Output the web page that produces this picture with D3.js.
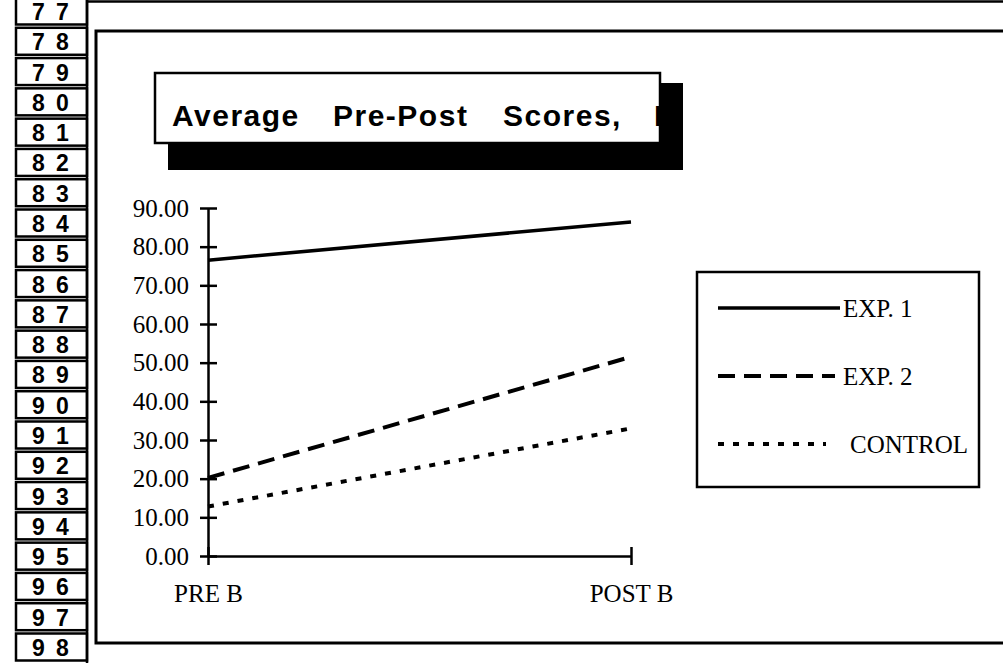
<!DOCTYPE html>
<html>
<head>
<meta charset="utf-8">
<script src="https://cdnjs.cloudflare.com/ajax/libs/d3/7.8.5/d3.min.js"></script>
<style>
  body { margin: 0; background: #fff; }
  svg { display: block; }
</style>
</head>
<body>
<div class="chart-container"></div>
<script>
/* Average Pre-Post Scores
   ========================================================================== */

// Data
var categories = ["PRE B", "POST B"];
var exp1 = [76.5, 86.4];
var exp2 = [20.2, 51.5];
var control = [12.8, 33.0];
var seriesNames = ["EXP. 1", "EXP. 2", "CONTROL"];
var yTicks = [0, 10, 20, 30, 40, 50, 60, 70, 80, 90];
var rowNumbers = d3.range(77, 99);
var titleWords = ["Average", "Pre-Post", "Scores,", "B"];

var width = 1003,
    height = 663;

var svg = d3.select(".chart-container").append("svg")
    .attr("width", width)
    .attr("height", height)
    .style("background", "#fff");

// Spreadsheet row numbers on the left
var rowY = d3.scaleLinear()
    .domain([77, 98])
    .range([11, 647]);

var rows = svg.append("g").attr("class", "rows");

rows.selectAll("rect")
    .data(rowNumbers)
    .enter().append("rect")
    .attr("x", 16)
    .attr("y", function(d) { return rowY(d) - 13.5; })
    .attr("width", 71)
    .attr("height", 27)
    .attr("fill", "#fff")
    .attr("stroke", "#000")
    .attr("stroke-width", 2.5);

rows.selectAll("text")
    .data(rowNumbers)
    .enter().append("text")
    .attr("x", "32 56")
    .attr("y", function(d) { return rowY(d) + 9; })
    .attr("font-family", "Liberation Sans, Arial, sans-serif")
    .attr("font-weight", "bold")
    .attr("font-size", 23)
    .text(function(d) { return String(d); });

// column edge + top border
svg.append("line")
    .attr("x1", 87).attr("x2", 87).attr("y1", 0).attr("y2", height)
    .attr("stroke", "#000").attr("stroke-width", 2.5);
svg.append("line")
    .attr("x1", 87).attr("x2", width).attr("y1", 1.5).attr("y2", 1.5)
    .attr("stroke", "#000").attr("stroke-width", 2.5);

// Chart frame
svg.append("rect")
    .attr("x", 96)
    .attr("y", 31)
    .attr("width", 960)
    .attr("height", 612)
    .attr("fill", "none")
    .attr("stroke", "#000")
    .attr("stroke-width", 3);

// Title box with shadow
var box = { x: 155, y: 73, w: 505, h: 70 };

svg.append("rect")
    .attr("x", box.x + 13)
    .attr("y", box.y + 10)
    .attr("width", box.w + 10)
    .attr("height", box.h + 17)
    .attr("fill", "#000");

svg.append("rect")
    .attr("x", box.x)
    .attr("y", box.y)
    .attr("width", box.w)
    .attr("height", box.h)
    .attr("fill", "#fff")
    .attr("stroke", "#000")
    .attr("stroke-width", 2.5);

svg.append("clipPath")
    .attr("id", "title-clip")
    .append("rect")
    .attr("x", box.x)
    .attr("y", box.y)
    .attr("width", box.w - 1)
    .attr("height", box.h);

var wordX = [172, 333, 503, 654];

svg.append("g")
    .attr("clip-path", "url(#title-clip)")
    .selectAll("text")
    .data(titleWords)
    .enter().append("text")
    .attr("x", function(d, i) { return wordX[i]; })
    .attr("y", 126)
    .attr("font-family", "Liberation Sans, Arial, sans-serif")
    .attr("font-weight", "bold")
    .attr("font-size", 30)
    .attr("letter-spacing", 1.5)
    .text(function(d) { return d; });

// Scales
var x = d3.scalePoint()
    .domain(categories)
    .range([208, 631]);
var y = d3.scaleLinear()
    .domain([0, 90])
    .range([556, 208]);

// Y axis
var yAxis = svg.append("g")
    .attr("class", "y-axis")
    .attr("transform", "translate(" + x(categories[0]) + ",0)")
    .call(d3.axisLeft(y)
        .tickValues(yTicks)
        .tickFormat(d3.format(".2f"))
        .tickSizeInner(8)
        .tickSizeOuter(0)
        .tickPadding(11));

yAxis.selectAll("line").attr("x1", 9);

// X axis
var xAxis = svg.append("g")
    .attr("class", "x-axis")
    .attr("transform", "translate(0," + y(0) + ")")
    .call(d3.axisBottom(x)
        .tickSizeInner(9)
        .tickSizeOuter(0)
        .tickPadding(19));

xAxis.selectAll("line").attr("y1", -9);

svg.selectAll(".y-axis, .x-axis")
    .attr("font-family", "Liberation Serif, Times New Roman, serif")
    .attr("font-size", 25);
svg.selectAll(".y-axis path, .x-axis path, .y-axis line, .x-axis line")
    .attr("stroke", "#000")
    .attr("stroke-width", 2.5);
svg.selectAll(".y-axis text, .x-axis text").attr("fill", "#000");

// Series lines
var series = [
    { name: seriesNames[0], values: exp1, dash: null, w: 3.5 },
    { name: seriesNames[1], values: exp2, dash: "17,9", w: 4 },
    { name: seriesNames[2], values: control, dash: "6,9", w: 4 }
];

var line = d3.line()
    .x(function(d, i) { return x(categories[i]); })
    .y(function(d) { return y(d); });

svg.selectAll(".series")
    .data(series)
    .enter().append("path")
    .attr("class", "series")
    .attr("d", function(d) { return line(d.values); })
    .attr("fill", "none")
    .attr("stroke", "#000")
    .attr("stroke-width", function(d) { return d.w; })
    .attr("stroke-dasharray", function(d) { return d.dash; });

// Legend
var legend = svg.append("g").attr("class", "legend");

legend.append("rect")
    .attr("x", 697)
    .attr("y", 272)
    .attr("width", 282)
    .attr("height", 215)
    .attr("fill", "#fff")
    .attr("stroke", "#000")
    .attr("stroke-width", 2.5);

var legendY = [308, 376, 444];
var legendEnd = [840, 835, 826];
var legendText = [843, 843, 850];

legend.selectAll("line")
    .data(series)
    .enter().append("line")
    .attr("x1", 718)
    .attr("x2", function(d, i) { return legendEnd[i]; })
    .attr("y1", function(d, i) { return legendY[i]; })
    .attr("y2", function(d, i) { return legendY[i]; })
    .attr("stroke", "#000")
    .attr("stroke-width", function(d) { return d.w; })
    .attr("stroke-dasharray", function(d) { return d.dash; });

legend.selectAll("text")
    .data(series)
    .enter().append("text")
    .attr("x", function(d, i) { return legendText[i]; })
    .attr("y", function(d, i) { return legendY[i] + 9; })
    .attr("font-family", "Liberation Serif, Times New Roman, serif")
    .attr("font-size", 25)
    .text(function(d) { return d.name; });
</script>
</body>
</html>
